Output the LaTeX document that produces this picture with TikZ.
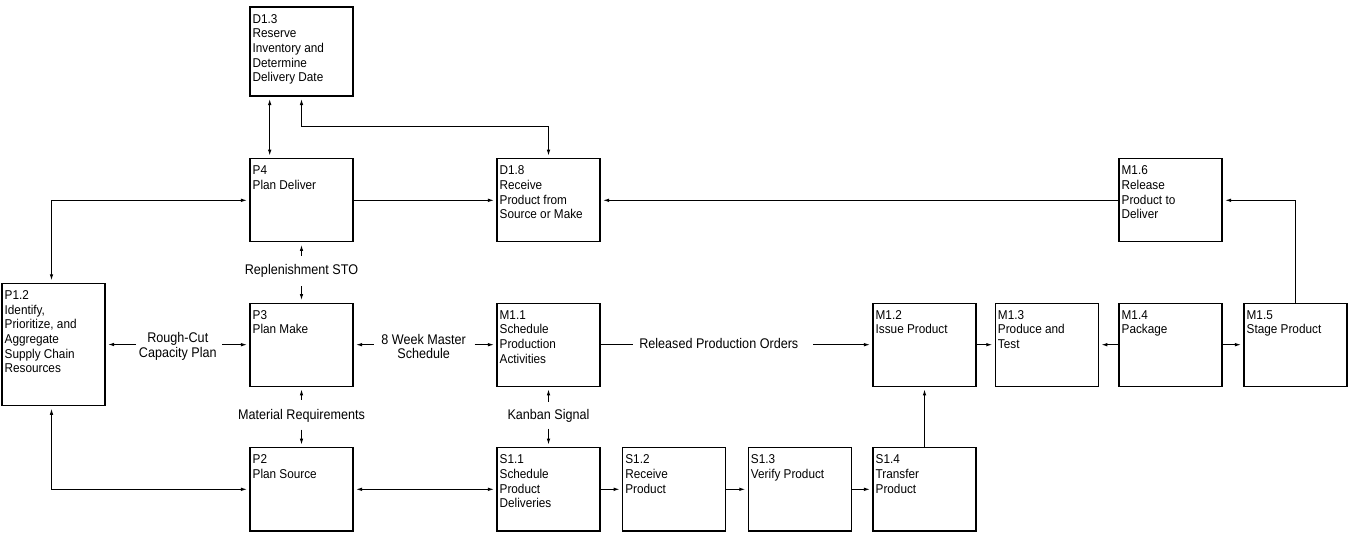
\documentclass[tikz,border=0pt]{standalone}
\usepackage{fontspec}
\setmainfont{Liberation Sans}
\newfontfamily\boxfont[FakeStretch=0.92]{Liberation Sans}
\newfontfamily\lblfont[FakeStretch=0.9]{Liberation Sans}
\usetikzlibrary{arrows.meta,calc}
\newcommand{\mkbox}[4]{%
  \node[box] (#1) at (#2,#3) {};
  \node[captxt] (#1t) at (#1.north west) {#4};}
\begin{document}
\begin{tikzpicture}[x=1pt,y=-1pt,
  box/.style={draw, line width=1.1pt, minimum width=103pt, minimum height=83.3pt, inner sep=0pt},
  captxt/.style={anchor=north west, inner sep=0pt, align=left, xshift=3pt, yshift=-7.5pt,
    font=\boxfont\fontsize{12.8}{14.7}\selectfont},
  conn/.style={line width=1pt},
  arr/.style={conn, -{Latex[length=6pt,width=3.6pt]}, shorten >=2.5pt},
  darr/.style={conn, {Latex[length=6pt,width=3.6pt]}-{Latex[length=6pt,width=3.6pt]}, shorten >=2.5pt, shorten <=2.5pt},
  lbl/.style={align=center, inner sep=0pt, font=\lblfont\fontsize{14}{14.5}\selectfont}]
\useasboundingbox (0,0) rectangle (1351,537);

% boxes
\node[box, minimum height=89pt] (d13) at (301.5,51.5) {};
\node[captxt] (d13t) at (d13.north west) {D1.3\\Reserve\\Inventory and\\Determine\\Delivery Date};
\mkbox{p4}{301.5}{200.3}{P4\\Plan Deliver}
\mkbox{d18}{548.5}{200.3}{D1.8\\Receive\\Product from\\Source or Make}
\mkbox{m16}{1170.5}{200.3}{M1.6\\Release\\Product to\\Deliver}
\node[box, minimum height=122.4pt] (p12) at (53.5,344.5) {};
\node[captxt] (p12t) at (p12.north west) {P1.2\\Identify,\\Prioritize, and\\Aggregate\\Supply Chain\\Resources};
\mkbox{p3}{301.5}{344.7}{P3\\Plan Make}
\mkbox{m11}{548.5}{344.7}{M1.1\\Schedule\\Production\\Activities}
\mkbox{m12}{924.5}{344.7}{M1.2\\Issue Product}
\mkbox{m13}{1046.8}{344.7}{M1.3\\Produce and\\Test}
\mkbox{m14}{1170.5}{344.7}{M1.4\\Package}
\mkbox{m15}{1295.5}{344.7}{M1.5\\Stage Product}
\mkbox{p2}{301.5}{489.3}{P2\\Plan Source}
\mkbox{s11}{548.5}{489.3}{S1.1\\Schedule\\Product\\Deliveries}
\mkbox{s12}{674.2}{489.3}{S1.2\\Receive\\Product}
\mkbox{s13}{799.8}{489.3}{S1.3\\Verify Product}
\mkbox{s14}{924.5}{489.3}{S1.4\\Transfer\\Product}

% labels
\node[lbl] (rsto) at (301.5,271) {Replenishment STO};
\node[lbl] (mreq) at (301.5,415.7) {Material Requirements};
\node[lbl] (kban) at (548.5,415.7) {Kanban Signal};
\node[lbl] (rcc) at (177.8,346.5) {Rough-Cut\\Capacity Plan};
\node[lbl] (wms) at (423.7,346.5) {8 Week Master\\Schedule};
\node[lbl] (rpo) at (718.8,343) {Released Production Orders};

% connectors
\draw[darr] ([xshift=-31.8pt]d13.south) -- ([xshift=-31.8pt]p4.north);
\coordinate (j1) at (301.5,126.7);
\draw[darr] (d13.south) -- (j1) -| (d18.north);
\draw[arr] (p4.east) -- (d18.west);
\draw[arr] (m16.west) -- (d18.east);
\draw[darr] ([xshift=-2pt]p12.north) |- (p4.west);
\draw[darr] ([xshift=-2pt]p12.south) |- (p2.west);
\draw[darr] (p2.east) -- (s11.west);
\draw[arr] (s11.east) -- (s12.west);
\draw[arr] (s12.east) -- (s13.west);
\draw[arr] (s13.east) -- (s14.west);
\draw[arr] (s14.north) -- (m12.south);
\draw[arr] (m12.east) -- (m13.west);
\draw[arr] (m14.west) -- (m13.east);
\draw[arr] (m14.east) -- (m15.west);
\draw[arr] (m15.north) |- (m16.east);

\draw[arr] ([yshift=15pt]rsto.center) -- (p4.south);
\draw[arr] ([yshift=-15pt]rsto.center) -- (p3.north);
\draw[arr] ([yshift=16pt]mreq.center) -- (p3.south);
\draw[arr] ([yshift=-14pt]mreq.center) -- (p2.north);
\draw[arr] ([yshift=14pt]kban.center) -- (m11.south);
\draw[arr] ([yshift=-13pt]kban.center) -- (s11.north);

\draw[arr] ([xshift=-2.5pt]rcc.west |- p12.east) -- (p12.east);
\draw[arr] ([xshift=5.3pt]rcc.east |- p3.west) -- (p3.west);
\draw[arr] ([xshift=-7.7pt]wms.west |- p3.east) -- (p3.east);
\draw[arr] ([xshift=8.5pt]wms.east |- m11.west) -- (m11.west);
\draw[conn] (m11.east) -- ([xshift=-6.6pt]rpo.west |- m11.east);
\draw[arr] ([xshift=14.7pt]rpo.east |- m12.west) -- (m12.west);
\end{tikzpicture}
\end{document}
